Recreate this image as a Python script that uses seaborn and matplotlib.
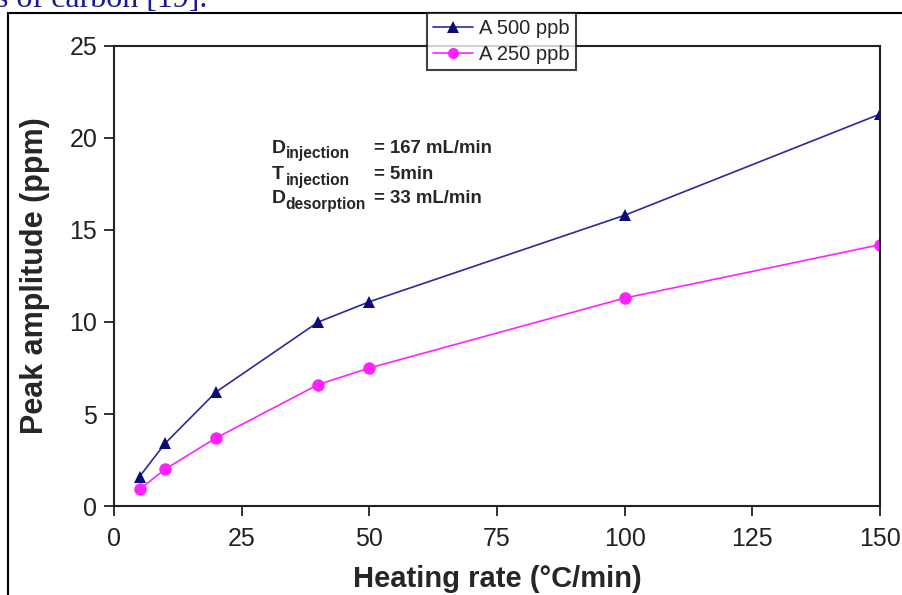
import numpy as np
import pandas as pd
import matplotlib
matplotlib.use("Agg")
import matplotlib.pyplot as plt
import seaborn as sns
from matplotlib.patches import Rectangle

# data
heating_rate = [5, 10, 20, 40, 50, 100, 150]
amp_500 = [1.6, 3.4, 6.2, 10.0, 11.1, 15.8, 21.3]
amp_250 = [0.9, 2.0, 3.7, 6.6, 7.5, 11.3, 14.2]
series_names = ["A 500 ppb", "A 250 ppb"]
x_ticks = [0, 25, 50, 75, 100, 125, 150]
y_ticks = [0, 5, 10, 15, 20, 25]

df = pd.DataFrame({
    "rate": heating_rate * 2,
    "amp": amp_500 + amp_250,
    "series": [series_names[0]] * len(heating_rate) + [series_names[1]] * len(heating_rate),
})

sns.set_theme(style="ticks")
plt.rcParams["font.family"] = ["Liberation Sans", "DejaVu Sans"]

fig = plt.figure(figsize=(9.03, 5.95), dpi=100)
ax = fig.add_axes([114 / 903, 1 - 506 / 595, (880 - 114) / 903, (506 - 46) / 595])

palette = {series_names[0]: "#2a2a9a", series_names[1]: "#ff22ff"}
markers = {series_names[0]: "^", series_names[1]: "o"}
sns.lineplot(data=df, x="rate", y="amp", hue="series", style="series",
             palette=palette, markers=markers, dashes=False, ax=ax,
             linewidth=1.2, markersize=9, markeredgewidth=0, legend=False)
# darker triangle markers
for line in ax.get_lines():
    if line.get_marker() == "^":
        line.set_markerfacecolor("#0c0c78")
        line.set_markersize(8.5)

ax.set_xlim(0, 150)
ax.set_ylim(0, 25)
ax.set_xticks(x_ticks)
ax.set_yticks(y_ticks)
ax.tick_params(labelsize=18, length=7, width=1.3, direction="out", colors="#222222", pad=5)
ax.tick_params(axis="x", pad=8)
for s in ax.spines.values():
    s.set_linewidth(1.5)
    s.set_color("#222222")
ax.set_xlabel("Heating rate (°C/min)", fontsize=21, fontweight="bold", labelpad=10)
ax.set_ylabel("Peak amplitude (ppm)", fontsize=22, fontweight="bold", labelpad=14)

# annotation block
rows = [("D", "injection", "= 167 mL/min", 19.45),
        ("T", "injection", "= 5min", 18.0),
        ("D", "desorption", "= 33 mL/min", 16.7)]
for big, sub, rhs, yv in rows:
    ax.text(30.8, yv, big, fontsize=14, fontweight="bold", va="center", ha="left")
    ax.text(33.6, yv - 0.3, sub, fontsize=11.2, fontweight="bold", va="center", ha="left")
    ax.text(51.0, yv, rhs, fontsize=13.4, fontweight="bold", va="center", ha="left")

# legend box
handles = [plt.Line2D([], [], color="#2a2a9a", marker="^", markersize=8,
                      markerfacecolor="#0c0c78", markeredgewidth=0, lw=1.2),
           plt.Line2D([], [], color="#ff22ff", marker="o", markersize=8,
                      markeredgewidth=0, lw=1.2)]
leg = fig.legend(handles, series_names, loc="upper left",
                 bbox_to_anchor=(427 / 903, 1 - 13 / 595), fontsize=14.5,
                 frameon=True, fancybox=False, handlelength=2.0,
                 handletextpad=0.3, borderpad=0.3, labelspacing=0.35,
                 borderaxespad=0)
leg.get_frame().set_edgecolor("#111111")
leg.get_frame().set_linewidth(1.5)

# page frame and clipped caption text from the source document
fig.patches.append(Rectangle((8 / 903, -0.02), 1.1, 1 - 13 / 595 + 0.02,
                             transform=fig.transFigure, fill=False,
                             edgecolor="black", linewidth=1.5))
fig.text(-0.004, 1 - 7 / 595, "s of carbon [19].", fontsize=23, color="#1a1a90",
         family=["Liberation Serif", "DejaVu Serif"], va="baseline", ha="left")

fig.savefig("out.png", dpi=100)
